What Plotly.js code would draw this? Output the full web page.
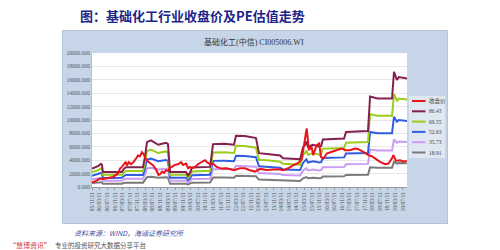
<!DOCTYPE html>
<html><head><meta charset="utf-8">
<script src="https://cdn.plot.ly/plotly-3.0.1.min.js"></script>
<style>
html,body{margin:0;padding:0;background:#fff;width:500px;height:250px;overflow:hidden;}
#panel{position:absolute;left:62px;top:30px;width:384px;height:192px;background:#c6d6e8;border:1px solid #b3c4d8;}
#chart{position:absolute;left:0;top:0;width:500px;height:250px;}
</style></head>
<body><div id="panel"></div><div id="chart"></div>
<script>
const bandDates = ['2005-11-11','2006-02-15','2006-04-03','2006-04-20','2006-05-05','2006-10-01','2007-03-05','2007-04-05','2007-05-08','2008-02-08','2008-03-11','2008-04-11','2008-06-15','2008-10-08','2009-02-11','2009-03-15','2009-04-17','2009-12-30','2010-02-01','2010-03-02','2010-04-05','2011-01-20','2011-03-08','2011-09-01','2012-02-08','2012-03-11','2012-08-01','2013-01-26','2013-03-15','2013-09-01','2014-02-17','2014-04-05','2015-01-05','2015-02-20','2015-03-25','2015-04-15','2015-05-10','2015-08-01','2015-11-10','2015-12-08','2016-01-05','2016-12-11','2017-01-11','2017-12-30','2018-02-01','2018-06-01','2019-01-20','2019-02-20','2019-04-08','2019-05-10','2019-09-17'];
const pe8643 = [2760,3100,3450,3300,2250,2200,2250,2700,2950,2950,4500,6700,6950,6300,6600,6400,2250,2250,1700,2100,2900,3000,6400,6450,6300,7650,7600,7300,5050,4900,4700,4300,4150,5900,6300,6800,6000,6300,6000,6100,7100,7250,8200,8350,13500,13200,13200,17200,16000,16400,16200];
const pe6955 = [2220,2500,2780,2660,1810,1770,1810,2170,2370,2370,3620,5390,5590,5070,5310,5150,1810,1810,1370,1690,2330,2410,5150,5190,5070,6160,6120,5870,4060,3940,3780,3460,3340,4750,5070,5470,4830,5070,4830,4910,5710,5830,6600,6720,10860,10620,10620,13840,12880,13200,13040];
const pe5263 = [1680,1890,2100,2010,1370,1340,1370,1640,1800,1800,2740,4080,4230,3840,4020,3900,1370,1370,1040,1280,1770,1830,3900,3930,3840,4660,4630,4450,3080,2980,2860,2620,2530,3590,3840,4140,3650,3840,3650,3710,4320,4420,4990,5080,8220,8040,8040,10470,9740,9990,9860];
const pe3573 = [1140,1280,1430,1360,930,910,930,1120,1220,1220,1860,2770,2870,2600,2730,2650,930,930,700,870,1200,1240,2650,2670,2600,3160,3140,3020,2090,2030,1940,1780,1720,2440,2600,2810,2480,2600,2480,2520,2940,3000,3390,3450,5580,5460,5460,7110,6610,6780,6700];
const pe1891 = [600,680,760,720,490,480,490,590,650,650,990,1470,1520,1380,1440,1400,490,490,370,460,640,660,1400,1410,1380,1670,1660,1600,1110,1070,1030,940,910,1290,1380,1490,1310,1380,1310,1340,1550,1590,1790,1830,2950,2890,2890,3760,3500,3590,3550];
const closeDates = ['2005-11-11','2005-12-15','2006-01-14','2006-02-20','2006-03-17','2006-05-05','2006-07-24','2006-10-14','2007-01-02','2007-02-04','2007-03-05','2007-04-05','2007-05-08','2007-05-25','2007-06-26','2007-07-29','2007-08-29','2007-10-01','2007-11-20','2007-12-20','2008-01-23','2008-02-17','2008-03-11','2008-04-28','2008-06-15','2008-07-17','2008-09-04','2008-10-14','2008-11-08','2008-12-11','2009-01-11','2009-02-11','2009-03-15','2009-04-17','2009-05-17','2009-07-05','2009-08-23','2009-10-11','2009-11-11','2009-12-30','2010-02-01','2010-03-02','2010-04-05','2010-05-23','2010-07-08','2010-09-08','2010-10-30','2010-12-17','2011-01-20','2011-03-08','2011-05-05','2011-07-23','2011-10-14','2012-01-02','2012-02-08','2012-05-14','2012-08-01','2012-10-23','2013-01-11','2013-04-01','2013-07-17','2013-11-01','2014-01-20','2014-04-08','2014-06-29','2014-09-17','2014-12-08','2015-02-01','2015-03-08','2015-04-20','2015-05-26','2015-07-08','2015-08-03','2015-09-27','2015-11-08','2015-12-05','2016-01-14','2016-03-08','2016-05-26','2016-08-14','2016-11-04','2016-12-26','2017-03-14','2017-06-05','2017-07-26','2017-10-16','2018-01-05','2018-02-28','2018-04-20','2018-07-11','2018-09-29','2018-11-23','2019-01-17','2019-02-11','2019-03-24','2019-05-26','2019-07-20','2019-09-14'];
const closePrice = [800,750,900,1050,1250,1200,1300,1500,2000,2750,3000,3400,3750,3200,3700,3400,3600,4000,4700,4600,5200,4900,4400,3800,3500,3250,2600,1800,1900,2300,2100,2500,2400,2900,3000,3300,3400,3700,3300,3500,2800,3000,2800,3000,3400,3750,4000,3600,3400,3500,3000,2750,2800,2600,2500,2800,2800,2500,2300,2700,2550,2600,2650,2500,2800,3250,3600,4200,6500,8750,5500,6000,4750,6250,6500,4500,4250,5000,5250,5500,5750,5500,5500,5750,5650,5250,4750,4600,4250,3750,3400,3500,4250,4750,3900,4000,3800,3900];
const seriesNames = ['收盘价','86.43','69.55','52.63','35.73','18.91'];
const seriesColors = ['#e8141c','#84204f','#9ccc1c','#2f5fe0','#c99cf2','#7a7a7a'];
const mainTitle = '图：基础化工行业收盘价及PE估值走势';
const chartTitle = '基础化工(中信) CI005006.WI';
const yTicks = [0,2000,4000,6000,8000,10000,12000,14000,16000,18000,20000];

const bandSeries = [pe8643, pe6955, pe5263, pe3573, pe1891];
const traces = [];
for (let i = bandSeries.length - 1; i >= 0; i--) {
  traces.push({type:'scatter', mode:'lines', x:bandDates, y:bandSeries[i], name:seriesNames[i+1],
    line:{color:seriesColors[i+1], width:2}, showlegend:false});
}
traces.push({type:'scatter', mode:'lines', x:closeDates, y:closePrice, name:seriesNames[0],
  line:{color:seriesColors[0], width:2}, showlegend:false});

const L=92, R=407, T=53, B=187;
const W=R-L, H=B-T;
const px = x => (x-L)/W;
const py = y => (B-y)/H;

const annotations = [
  {text:'<b>'+mainTitle+'</b>', xref:'paper', yref:'paper', x:px(78), y:py(15), xanchor:'left', yanchor:'middle', showarrow:false,
   font:{family:'Noto Sans CJK SC', size:13, color:'#1d2589'}},
  {text:chartTitle, xref:'paper', yref:'paper', x:px(254), y:py(42), xanchor:'center', yanchor:'middle', showarrow:false,
   font:{family:'Liberation Serif, Noto Sans CJK SC', size:8, color:'#333'}},
  {text:'“慧博资讯”', xref:'paper', yref:'paper', x:px(7), y:py(244.5), xanchor:'left', yanchor:'middle', showarrow:false,
   font:{family:'Noto Sans CJK SC', size:7, color:'#d2343c'}},
  {text:'专业的投资研究大数据分享平台', xref:'paper', yref:'paper', x:px(53), y:py(244.5), xanchor:'left', yanchor:'middle', showarrow:false,
   font:{family:'Noto Sans CJK SC', size:6.5, color:'#555'}},
  {text:'<i>资料来源：WIND，海通证券研究所</i>', xref:'paper', yref:'paper', x:px(72), y:py(233), xanchor:'left', yanchor:'middle', showarrow:false,
   font:{family:'Noto Sans CJK SC', size:7, color:'#4b4fa0'}}
];
const shapes = [
  {type:'rect', xref:'paper', yref:'paper', x0:px(409), x1:px(445), y0:py(96), y1:py(158), fillcolor:'#dfe7f1', line:{width:0}, layer:'below'}
];
for (let i = 0; i < seriesNames.length; i++) {
  const yy = 101 + i*10.3;
  shapes.push({type:'line', xref:'paper', yref:'paper', x0:px(412), x1:px(425.5), y0:py(yy), y1:py(yy), line:{color:seriesColors[i], width:2}});
  annotations.push({text:seriesNames[i], xref:'paper', yref:'paper', x:px(426.5), y:py(yy), xanchor:'left', yanchor:'middle', showarrow:false,
    font:{family:'Liberation Serif, Noto Sans CJK SC', size:5.5, color:'#444'}});
}

const layout = {
  width:500, height:250, autosize:false,
  margin:{l:L, r:500-R, t:T, b:250-B, pad:0},
  paper_bgcolor:'rgba(0,0,0,0)', plot_bgcolor:'#ffffff',
  showlegend:false,
  xaxis:{type:'date', range:['2005-11-11','2019-09-17'], tick0:'2005-11-11', dtick:'M4', tickformat:'%y/%m/%d',
    tickangle:-90, tickfont:{family:'Liberation Serif', size:5.5, color:'#555'}, ticks:'outside', ticklen:2, tickcolor:'#999',
    showgrid:false, showline:true, linecolor:'#999', linewidth:1, zeroline:false, automargin:false},
  yaxis:{range:[0,20000], tickvals:yTicks, tickformat:'.3f', tickfont:{family:'Liberation Serif', size:5.5, color:'#555'},
    showgrid:true, gridcolor:'#e8e8e8', gridwidth:1, showline:true, linecolor:'#bbb', linewidth:1, zeroline:false, ticks:'', automargin:false},
  annotations:annotations, shapes:shapes
};
Plotly.newPlot('chart', traces, layout, {staticPlot:true, displayModeBar:false});
</script></body></html>
